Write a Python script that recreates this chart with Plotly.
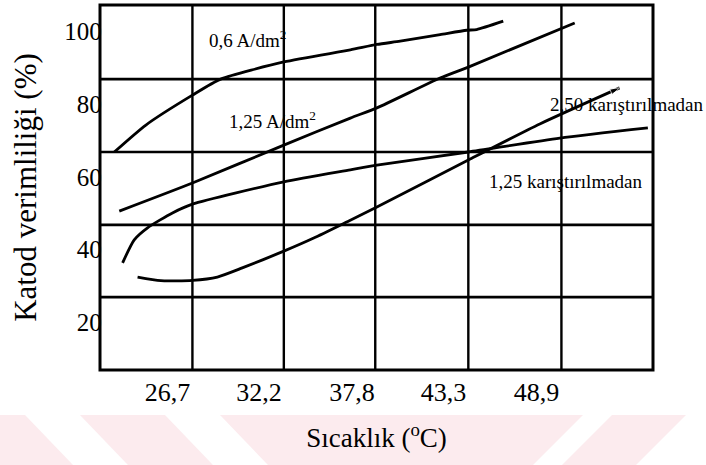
import plotly.graph_objects as go

# ---------------- data ----------------
# Temperature (°C) and cathode efficiency (%) for each curve
t_06 = [23.5, 25.4, 28.2, 29.9, 33.7, 37.7, 39.3, 40.7, 43.1, 44.7, 45.3, 46.9]
v_06 = [66.8, 74.2, 82.4, 86.8, 91.5, 94.8, 96.3, 97.2, 99.0, 100.2, 100.4, 102.7]

t_125 = [23.8, 28.2, 33.7, 37.7, 39.3, 43.1, 44.8, 51.2]
v_125 = [50.6, 58.3, 68.7, 76.1, 78.9, 87.1, 90.1, 102.2]

t_125k = [24.0, 24.7, 25.5, 27.0, 28.2, 33.7, 37.7, 39.3, 44.8, 50.3, 55.6]
v_125k = [36.4, 42.7, 46.0, 50.1, 52.5, 58.6, 61.9, 63.2, 66.8, 70.6, 73.4]

t_250k = [24.9, 26.3, 28.2, 29.7, 31.2, 33.7, 35.5, 37.7, 39.3, 44.8, 49.1, 53.9]
v_250k = [32.5, 31.5, 31.6, 32.5, 35.0, 39.6, 43.2, 48.1, 51.7, 64.6, 74.5, 84.4]

x_tick_vals = [26.7, 32.2, 37.8, 43.3, 48.9]
x_tick_text = ["26,7", "32,2", "37,8", "43,3", "48,9"]
y_tick_vals = [20, 40, 60, 80, 100]
y_tick_text = ["20", "40", "60", "80", "100"]

# grid lines of the original chart (offset from the labels)
grid_x = [28.2, 33.7, 39.2, 44.8, 50.4]
grid_y = [86.8, 66.8, 46.8, 27.0]

curve_labels = ["0,6 A/dm<sup>2</sup>", "1,25 A/dm<sup>2</sup>",
                "2,50 karıştırılmadan", "1,25 karıştırılmadan"]
label_pos = [(29.1, 97.8), (30.3, 75.6), (49.6, 79.7), (45.9, 58.6)]

x_range = [22.64, 55.91]
y_range = [7.0, 107.13]

FONT = "Liberation Serif, Times New Roman, serif"
W, H = 706, 465
ML, MR, MT, MB = 100, 53, 5, 95

fig = go.Figure()
line_style = dict(color="black", width=2.8, shape="spline", smoothing=0.6)
for t, v in [(t_06, v_06), (t_125, v_125), (t_125k, v_125k)]:
    fig.add_trace(go.Scatter(x=t, y=v, mode="lines", line=line_style,
                             hoverinfo="skip"))
fig.add_trace(go.Scatter(
    x=t_250k, y=v_250k, mode="lines+markers", line=line_style,
    marker=dict(symbol="arrow", angleref="previous", color="black",
                size=[0] * (len(t_250k) - 1) + [10]),
    hoverinfo="skip"))

shapes = []
for gx in grid_x:
    shapes.append(dict(type="line", xref="x", yref="paper", x0=gx, x1=gx,
                       y0=0, y1=1, line=dict(color="black", width=2.4)))
for gy in grid_y:
    shapes.append(dict(type="line", xref="paper", yref="y", x0=0, x1=1,
                       y0=gy, y1=gy, line=dict(color="black", width=2.6)))
# outer frame
shapes.append(dict(type="rect", xref="paper", yref="paper", x0=0, x1=1,
                   y0=0, y1=1, line=dict(color="black", width=3)))

# pink watermark band at the bottom of the page
pw = W - ML - MR
ph = H - MT - MB
def px(x):
    return (x - ML) / pw
def py(y):
    return (H - MB - y) / ph
PINK = "#fcebee"
band = [
    [(0, 415), (25, 415), (73, 465), (0, 465)],
    [(80, 415), (165, 415), (213, 465), (128, 465)],
    [(220, 415), (583, 415), (533, 465), (268, 465)],
    [(612, 415), (686, 415), (636, 465), (562, 465)],
]
for poly in band:
    path = "M " + " L ".join(f"{px(a):.4f},{py(b):.4f}" for a, b in poly) + " Z"
    shapes.append(dict(type="path", xref="paper", yref="paper", path=path,
                       fillcolor=PINK, line=dict(width=0), layer="below"))

annotations = []
for txt, (ax_, ay_) in zip(curve_labels, label_pos):
    annotations.append(dict(x=ax_, y=ay_, xref="x", yref="y", text=txt,
                            showarrow=False, xanchor="left", yanchor="middle",
                            font=dict(family=FONT, size=19, color="black")))

fig.update_layout(
    width=W, height=H,
    font=dict(family=FONT, color="black"),
    margin=dict(l=ML, r=MR, t=MT, b=MB, pad=0),
    paper_bgcolor="white", plot_bgcolor="white",
    showlegend=False,
    shapes=shapes, annotations=annotations,
    xaxis=dict(range=x_range, tickvals=x_tick_vals, ticktext=x_tick_text,
               showgrid=False, zeroline=False, ticks="", showline=False,
               ticklabelstandoff=4,
               tickfont=dict(family=FONT, size=26, color="black"),
               title=dict(text="Sıcaklık (<sup>o</sup>C)", standoff=22,
                          font=dict(family=FONT, size=27, color="black"))),
    yaxis=dict(range=y_range, tickvals=y_tick_vals, ticktext=y_tick_text,
               anchor="free", position=0.003,
               showgrid=False, zeroline=False, ticks="", showline=False,
               tickfont=dict(family=FONT, size=25, color="black"),
               title=dict(text="Katod verimliliği (%)", standoff=17,
                          font=dict(family=FONT, size=31, color="black"))),
)

fig.write_html("out.html")
